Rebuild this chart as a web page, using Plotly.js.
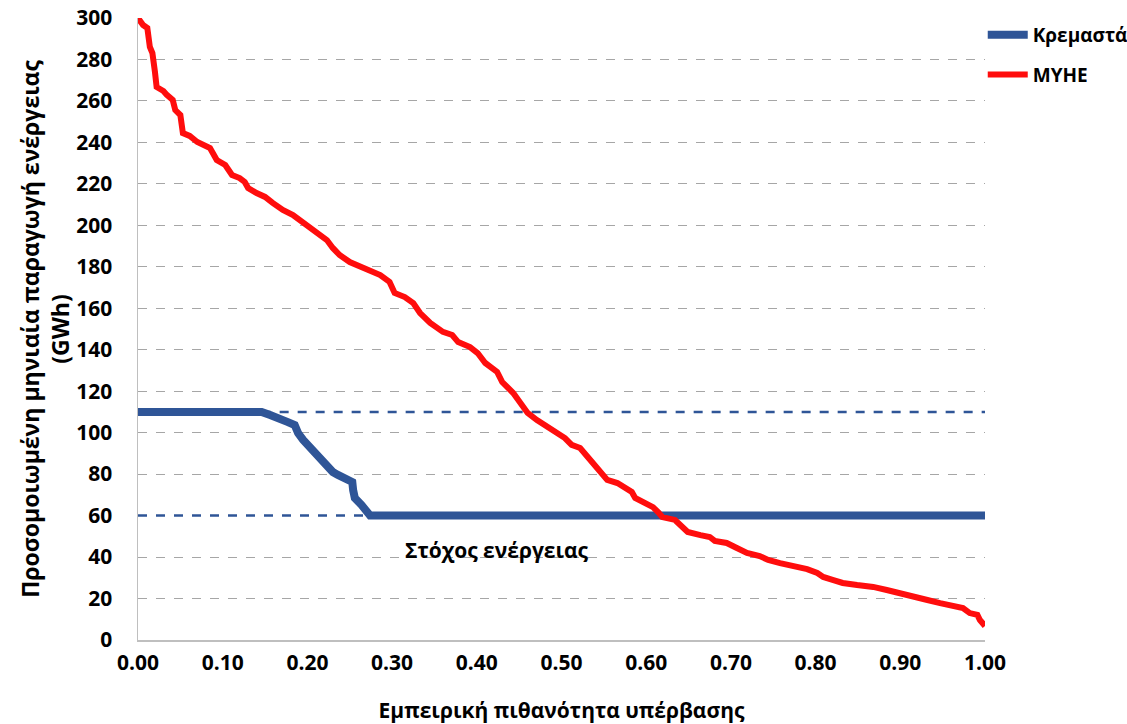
<!DOCTYPE html>
<html>
<head>
<meta charset="utf-8">
<script src="https://cdn.plot.ly/plotly-3.0.1.min.js"></script>
<style>html,body{margin:0;padding:0;background:#fff;}#chart{width:1127px;height:724px;}</style>
</head>
<body>
<div id="chart"></div>
<script>
// Exceedance probability (x) and monthly energy (GWh) – MYHE (red)
const myheX = [0.000,0.006,0.011,0.014,0.017,0.018,0.020,0.022,0.026,0.030,0.034,0.041,0.044,0.050,0.053,0.061,0.070,0.077,0.085,0.093,0.103,0.111,0.120,0.126,0.130,0.140,0.150,0.159,0.171,0.183,0.195,0.205,0.215,0.223,0.230,0.238,0.250,0.268,0.286,0.297,0.303,0.315,0.325,0.333,0.345,0.360,0.371,0.378,0.392,0.401,0.410,0.424,0.430,0.443,0.451,0.460,0.471,0.483,0.495,0.504,0.512,0.522,0.534,0.545,0.554,0.566,0.575,0.583,0.587,0.596,0.608,0.614,0.619,0.634,0.642,0.649,0.664,0.675,0.681,0.695,0.707,0.719,0.734,0.744,0.758,0.773,0.790,0.802,0.809,0.821,0.832,0.849,0.868,0.884,0.900,0.915,0.932,0.947,0.962,0.974,0.982,0.991,0.994,0.998,1.000];
const myheY = [300.0,296.6,295.2,286.0,283.1,276.4,274.0,266.7,265.8,264.8,262.9,260.5,255.6,253.2,244.5,243.1,240.2,238.7,237.3,231.5,229.1,224.3,222.8,220.9,218.0,215.6,213.7,210.8,207.4,205.0,201.6,198.7,195.3,192.9,189.1,185.7,182.3,179.4,176.0,172.7,167.4,165.4,162.5,157.7,152.9,148.6,147.1,143.7,141.3,138.4,133.6,129.3,124.4,119.1,114.8,109.5,106.1,102.7,99.8,97.4,94.1,92.6,86.8,82.0,77.2,75.7,73.3,71.4,68.5,66.6,64.1,61.7,59.3,57.9,54.5,52.1,50.6,49.7,47.8,46.8,44.4,42.0,40.5,38.6,37.1,35.7,34.2,32.3,30.4,28.9,27.5,26.5,25.6,24.1,22.7,20.7,19.3,17.8,16.4,15.4,13.0,12.1,9.6,6.8,6.8];

// Kremasta (blue)
const kremX = [0.000,0.146,0.156,0.168,0.177,0.185,0.189,0.195,0.203,0.209,0.217,0.223,0.230,0.236,0.244,0.253,0.254,0.256,0.264,0.268,0.272,0.274,1.000];
const kremY = [110,110,108.5,107.1,105.1,103.7,99.8,96.5,93.1,89.2,86.8,83.4,81.0,79.6,78.1,76.2,72.3,68.5,65.1,62.7,60.3,60,60];

// Energy targets (dashed reference lines)
const targetUpperX = [0.146, 1.0];
const targetUpperY = [110, 110];
const targetLowerX = [0.0, 0.274];
const targetLowerY = [60, 60];

const seriesNames = ['Κρεμαστά', 'ΜΥΗΕ'];
const xTickVals = [0,0.1,0.2,0.3,0.4,0.5,0.6,0.7,0.8,0.9,1.0];
const yTickVals = [0,20,40,60,80,100,120,140,160,180,200,220,240,260,280,300];
const xTitle = 'Εμπειρική πιθανότητα υπέρβασης';
const yTitle = 'Προσομοιωμένη μηνιαία παραγωγή ενέργειας<br>(GWh)';
const targetLabel = 'Στόχος ενέργειας';

const BLUE = '#2F5597';
const RED = '#FF0D0D';
const FONT = 'Open Sans, Lato, DejaVu Sans, sans-serif';

const traces = [
  {x: targetUpperX, y: targetUpperY, mode: 'lines', line: {color: BLUE, width: 2.5, dash: 'dash'}, showlegend: false, hoverinfo: 'skip', cliponaxis: false},
  {x: targetLowerX, y: targetLowerY, mode: 'lines', line: {color: BLUE, width: 2.5, dash: 'dash'}, showlegend: false, hoverinfo: 'skip', cliponaxis: false},
  {x: kremX, y: kremY, mode: 'lines', name: seriesNames[0], legendgroup: 'a', line: {color: BLUE, width: 8}, cliponaxis: false},
  {x: myheX, y: myheY, mode: 'lines', name: seriesNames[1], legendgroup: 'b', line: {color: RED, width: 6}, cliponaxis: false}
];

const layout = {
  width: 1127, height: 724,
  margin: {l: 138, r: 142, t: 18, b: 84, autoexpand: false},
  paper_bgcolor: '#fff', plot_bgcolor: '#fff',
  font: {family: FONT, color: '#000', size: 18},
  showlegend: true,
  legend: {xref: 'container', yref: 'container', x: 0.872, xanchor: 'left', y: 0.978, yanchor: 'top', itemwidth: 40,
           font: {family: FONT, size: 19, weight: 'bold', color: '#000'}, tracegroupgap: 12, bgcolor: 'rgba(0,0,0,0)'},
  xaxis: {
    range: [0, 1], tickvals: xTickVals, tickformat: '.2f', showgrid: false, zeroline: false,
    showline: true, linecolor: '#BFBFBF', linewidth: 1.5, ticks: '', ticklabelstandoff: 3,
    tickfont: {family: FONT, size: 21, weight: 'bold', color: '#000'},
    title: {text: xTitle, font: {family: FONT, size: 21, weight: 'bold', color: '#000'}, standoff: 28}
  },
  yaxis: {
    range: [0, 300], tickvals: yTickVals, showgrid: true, gridcolor: '#A6A6A6', griddash: 'dash', gridwidth: 1,
    zeroline: false, showline: true, linecolor: '#BFBFBF', linewidth: 1.5, ticks: '', ticklabelstandoff: 20,
    tickfont: {family: FONT, size: 21, weight: 'bold', color: '#000'},
    title: {text: yTitle, font: {family: FONT, size: 23, weight: 'bold', color: '#000'}, standoff: 0}
  },
  annotations: [
    {x: 0.424, y: 43.4, xref: 'x', yref: 'y', text: targetLabel, showarrow: false, font: {family: FONT, size: 21, weight: 'bold', color: '#000'}}
  ]
};

Plotly.newPlot('chart', traces, layout, {displayModeBar: false, staticPlot: true});
</script>
</body>
</html>
